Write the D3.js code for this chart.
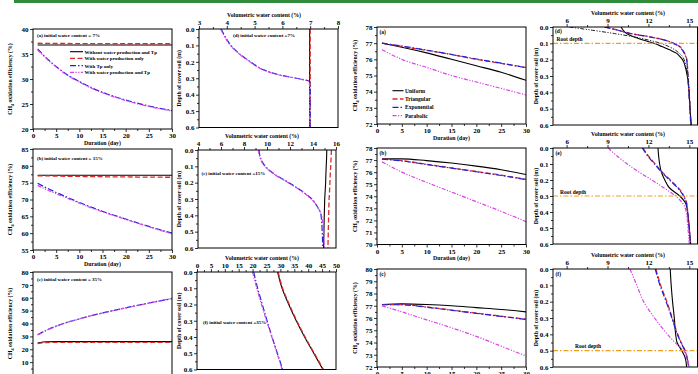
<!DOCTYPE html>
<html><head><meta charset="utf-8">
<script src="https://cdn.jsdelivr.net/npm/d3@7"></script>
<style>
body{margin:0;background:#fff}
svg{display:block}
text{font-family:"Liberation Serif","Times New Roman",serif;font-weight:bold;fill:#000}
</style>
</head><body>
<svg id="c" width="698" height="374"></svg>
<script>
// ---------- DATA ----------
// Left column: CH4 oxidation efficiency vs duration, by initial water content
const daysL = [1, 3, 5, 7, 10, 13, 16, 20, 25, 30];
const seriesNamesL = ["Without water production and Tp", "With water production only", "With Tp only", "With water production and Tp"];
const effA_none  = [36.8, 36.8, 36.8, 36.8, 36.8, 36.8, 36.8, 36.8, 36.8, 36.8];
const effA_water = [37.15, 37.12, 37.1, 37.1, 37.08, 37.07, 37.06, 37.05, 37.05, 37.05];
const effA_tp    = [36.0, 34.1, 32.5, 31.1, 29.5, 28.1, 27.0, 25.8, 24.6, 23.7];
const effA_both  = [35.8, 34.0, 32.4, 31.0, 29.4, 28.0, 26.9, 25.7, 24.5, 23.6];

const effB_none  = [77.2, 77.2, 77.2, 77.2, 77.2, 77.2, 77.2, 77.2, 77.2, 77.2];
const effB_water = [77.0, 77.0, 76.95, 76.9, 76.85, 76.8, 76.75, 76.7, 76.65, 76.6];
const effB_tp    = [74.8, 73.4, 72.1, 70.9, 69.1, 67.5, 66.0, 64.2, 62.0, 60.0];
const effB_both  = [74.2, 72.9, 71.7, 70.6, 68.9, 67.3, 65.9, 64.1, 61.9, 59.8];

const effC_none  = [24.8, 25.8, 25.9, 25.9, 25.9, 25.9, 25.9, 25.9, 25.9, 25.9];
const effC_water = [24.3, 25.2, 25.4, 25.4, 25.4, 25.4, 25.4, 25.4, 25.3, 25.3];
const effC_tp    = [31.3, 35.0, 38.0, 40.5, 43.6, 46.5, 49.0, 52.2, 55.9, 59.3];
const effC_both  = [31.0, 34.8, 37.8, 40.4, 43.5, 46.4, 48.9, 52.1, 55.8, 59.6];

// Middle column: volumetric water content profiles
const depthD = [0, 0.05, 0.1, 0.15, 0.2, 0.25, 0.28, 0.3, 0.32, 0.35, 0.4, 0.5, 0.6];
const wcD_none  = [6.98, 6.98, 6.98, 6.98, 6.98, 6.98, 6.98, 6.98, 6.98, 6.98, 6.98, 6.98, 6.98];
const wcD_water = [7.0, 7.0, 7.0, 7.0, 7.0, 7.0, 7.0, 7.0, 7.0, 7.0, 7.0, 7.0, 7.0];
const wcD_tp    = [3.8, 3.95, 4.15, 4.45, 4.85, 5.35, 5.9, 6.5, 6.98, 7.0, 7.0, 7.0, 7.0];
const wcD_both  = [3.78, 3.93, 4.13, 4.43, 4.83, 5.33, 5.88, 6.48, 6.96, 6.98, 6.98, 6.98, 6.98];

const depthE = [0, 0.05, 0.1, 0.15, 0.2, 0.25, 0.3, 0.35, 0.4, 0.5, 0.6];
const wcE_none  = [15.2, 15.18, 15.15, 15.12, 15.1, 15.06, 15.02, 15.0, 14.98, 14.95, 14.92];
const wcE_water = [15.6, 15.57, 15.54, 15.5, 15.47, 15.44, 15.4, 15.38, 15.36, 15.33, 15.3];
const wcE_tp    = [9.3, 9.45, 9.85, 10.7, 11.9, 13.0, 13.9, 14.4, 14.7, 14.8, 14.85];
const wcE_both  = [9.25, 9.4, 9.8, 10.65, 11.85, 12.95, 13.85, 14.4, 14.75, 14.9, 15.0];

const depthF = [0, 0.1, 0.2, 0.3, 0.4, 0.5, 0.6];
const wcF_none  = [29.0, 30.6, 33.0, 35.7, 38.7, 42.0, 45.3];
const wcF_water = [29.2, 30.8, 33.2, 35.9, 38.9, 42.2, 45.5];
const wcF_tp    = [20.4, 21.8, 23.5, 25.2, 27.0, 28.9, 30.8];
const wcF_both  = [20.0, 21.5, 23.2, 25.0, 26.9, 28.8, 30.6];

// Right column: root distribution comparison
const daysR = [1, 5, 10, 15, 20, 25, 30];
const rootNames = ["Uniform", "Triangular", "Exponential", "Parabolic"];
const effRa_uni = [77.0, 76.75, 76.4, 76.0, 75.6, 75.2, 74.7];
const effRa_tri = [77.0, 76.8, 76.55, 76.3, 76.0, 75.75, 75.5];
const effRa_exp = [77.0, 76.82, 76.57, 76.3, 76.02, 75.76, 75.48];
const effRa_par = [76.6, 76.0, 75.5, 75.0, 74.6, 74.2, 73.8];

const effRb_uni = [77.1, 77.1, 76.95, 76.75, 76.5, 76.2, 75.8];
const effRb_tri = [77.1, 76.95, 76.65, 76.35, 76.05, 75.75, 75.4];
const effRb_exp = [77.08, 76.93, 76.63, 76.33, 76.03, 75.72, 75.38];
const effRb_par = [76.85, 76.0, 75.15, 74.35, 73.55, 72.75, 71.9];

const effRc_uni = [77.1, 77.15, 77.1, 77.0, 76.85, 76.7, 76.5];
const effRc_tri = [77.1, 77.1, 76.9, 76.65, 76.4, 76.15, 75.9];
const effRc_exp = [77.08, 77.08, 76.88, 76.63, 76.38, 76.13, 75.88];
const effRc_par = [77.0, 76.5, 75.85, 75.2, 74.5, 73.7, 72.9];

const depthRd = [0, 0.02, 0.04, 0.06, 0.08, 0.1, 0.12, 0.14, 0.16, 0.18, 0.2, 0.25, 0.3, 0.4, 0.5, 0.6];
const wcRd_uni = [10.0, 10.15, 10.4, 10.9, 11.6, 12.4, 13.0, 13.55, 14.05, 14.3, 14.5, 14.72, 14.85, 14.98, 15.05, 15.15];
const wcRd_tri = [8.8, 9.8, 10.7, 12.1, 13.2, 13.85, 14.3, 14.5, 14.65, 14.75, 14.82, 14.87, 14.9, 14.97, 15.05, 15.12];
const wcRd_exp = [8.78, 9.78, 10.68, 12.08, 13.18, 13.83, 14.28, 14.48, 14.63, 14.73, 14.8, 14.86, 14.9, 14.97, 15.05, 15.1];
const wcRd_par = [6.2, 7.9, 9.5, 10.9, 12.0, 12.9, 13.5, 13.95, 14.25, 14.5, 14.62, 14.78, 14.9, 15.0, 15.06, 15.12];

const depthRe = [0, 0.05, 0.1, 0.15, 0.2, 0.25, 0.3, 0.35, 0.4, 0.5, 0.6];
const wcRe_uni = [12.7, 12.75, 12.82, 12.95, 13.2, 13.55, 14.3, 14.75, 14.87, 15.0, 15.1];
const wcRe_tri = [11.6, 12.0, 12.5, 13.0, 13.6, 14.2, 14.6, 14.82, 14.88, 14.98, 15.1];
const wcRe_exp = [11.55, 11.95, 12.45, 12.95, 13.55, 14.15, 14.58, 14.8, 14.88, 14.98, 15.08];
const wcRe_par = [9.06, 9.7, 10.45, 11.3, 12.25, 13.15, 14.0, 14.55, 14.78, 14.9, 15.0];

const depthRf = [0, 0.1, 0.2, 0.3, 0.4, 0.45, 0.5, 0.55, 0.6];
const wcRf_uni = [13.6, 13.67, 13.77, 13.9, 14.0, 14.1, 14.45, 14.72, 14.8];
const wcRf_tri = [12.55, 12.9, 13.35, 13.75, 14.15, 14.4, 14.7, 14.85, 14.95];
const wcRf_exp = [12.5, 12.85, 13.3, 13.72, 14.12, 14.38, 14.68, 14.85, 14.97];
const wcRf_par = [10.65, 11.15, 11.65, 12.45, 13.4, 13.95, 14.6, 14.85, 15.0];

const rootDepths = [0.1, 0.3, 0.5];

// ---------- DRAWING ----------
const svg = d3.select("#c");
svg.append("rect").attr("x", 14).attr("y", 0).attr("width", 684).attr("height", 3).attr("fill", "#2f8a3c");

const STY = {
  black:   {stroke: "#000000", dash: null, w: 1.1},
  red:     {stroke: "#e02a2a", dash: "5,2.5", w: 1.3},
  blue:    {stroke: "#2020d8", dash: "6,2,1.5,2", w: 1.2},
  magenta: {stroke: "#d944e6", dash: "4,1.5,1.2,1.5,1.2,1.5", w: 1.2},
  dark:    {stroke: "#222222", dash: "4,1.5,1.2,1.5,1.2,1.5", w: 1.0}
};
const TICKF = 7, TITLEF = 5.8;
let clipId = 0;
const fmtInt = d3.format("d");

function frame(g, x0, y0, x1, y1) {
  g.append("rect").attr("x", x0).attr("y", y0).attr("width", x1 - x0).attr("height", y1 - y0)
    .attr("fill", "none").attr("stroke", "#000").attr("stroke-width", 1);
}
function styleAxis(sel) {
  sel.select(".domain").remove();
  sel.selectAll("line").attr("stroke", "#000").attr("stroke-width", 0.8);
  sel.selectAll("text").attr("font-size", TICKF).attr("font-family", "Liberation Serif, serif").attr("font-weight", "bold");
}
function minorOf(ticks) {
  const m = [];
  for (let i = 0; i < ticks.length - 1; i++) m.push((ticks[i] + ticks[i + 1]) / 2);
  return m;
}
function drawLines(g, x0, y0, x1, y1, series, xs, ys, vertical) {
  const id = "clip" + (clipId++);
  svg.append("clipPath").attr("id", id).append("rect").attr("x", x0).attr("y", y0).attr("width", x1 - x0).attr("height", y1 - y0);
  const lg = g.append("g").attr("clip-path", `url(#${id})`);
  series.forEach(s => {
    const pts = s.a.map((d, i) => vertical ? [s.v[i], d] : [d, s.v[i]]);
    const line = d3.line().x(p => xs(p[0])).y(p => ys(p[1]))
      .curve(vertical ? d3.curveMonotoneY : d3.curveMonotoneX);
    const st = STY[s.s];
    lg.append("path").attr("d", line(pts)).attr("fill", "none")
      .attr("stroke", st.stroke).attr("stroke-width", st.w)
      .attr("stroke-dasharray", st.dash);
  });
  return lg;
}
function effLabel(g, x, yc) {
  const t = g.append("text").attr("transform", `translate(${x},${yc}) rotate(-90)`)
    .attr("text-anchor", "middle").attr("font-size", TITLEF);
  t.append("tspan").text("CH");
  t.append("tspan").attr("font-size", TITLEF * 0.7).attr("dy", 1.5).text("4");
  t.append("tspan").attr("dy", -1.5).text(" oxidation efficiency (%)");
}
function depthLabel(g, x, yc) {
  g.append("text").attr("transform", `translate(${x},${yc}) rotate(-90)`)
    .attr("text-anchor", "middle").attr("font-size", TITLEF).text("Depth of cover soil (m)");
}

// Time panel
function timePanel(c) {
  const g = svg.append("g");
  const x = d3.scaleLinear().domain([0, 30]).range([c.x0, c.x1]);
  const y = d3.scaleLinear().domain(c.ydom).range([c.y1, c.y0]);
  const xt = [0, 5, 10, 15, 20, 25, 30];
  g.append("g").attr("transform", `translate(0,${c.y1})`)
    .call(d3.axisBottom(x).tickValues(minorOf(xt)).tickSize(2).tickFormat("")).call(styleAxis);
  g.append("g").attr("transform", `translate(0,${c.y1})`)
    .call(d3.axisBottom(x).tickValues(xt).tickSize(3).tickPadding(1.5)
      .tickFormat(c.hideXLabels ? () => "" : fmtInt)).call(styleAxis);
  g.append("g").attr("transform", `translate(${c.x0},0)`)
    .call(d3.axisLeft(y).tickValues(minorOf(c.yt)).tickSize(2).tickFormat("")).call(styleAxis);
  g.append("g").attr("transform", `translate(${c.x0},0)`)
    .call(d3.axisLeft(y).tickValues(c.yt).tickSize(3).tickPadding(1.5)
      .tickFormat(d => (c.hideY0 && d === c.ydom[0]) ? "" : fmtInt(d))).call(styleAxis);
  drawLines(g, c.x0, c.y0, c.x1, c.y1, c.series, x, y, false);
  frame(g, c.x0, c.y0, c.x1, c.y1);
  if (c.xTitle) g.append("text").attr("x", (c.x0 + c.x1) / 2).attr("y", c.y1 + 15.5)
      .attr("text-anchor", "middle").attr("font-size", TITLEF).text("Duration (day)");
  effLabel(g, c.ylx, (c.y0 + c.y1) / 2);
  if (c.label) g.append("text").attr("x", c.lx).attr("y", c.ly).attr("font-size", c.lf || 5).text(c.label);
  return {g, x, y};
}

// Depth panel
function depthPanel(c) {
  const g = svg.append("g");
  const x = d3.scaleLinear().domain(c.xdom).range([c.x0, c.x1]);
  const y = d3.scaleLinear().domain([0, 0.6]).range([c.y0, c.y1]);
  const yt = [0, 0.1, 0.2, 0.3, 0.4, 0.5, 0.6];
  g.append("g").attr("transform", `translate(0,${c.y0})`)
    .call(d3.axisTop(x).tickValues(c.xm).tickSize(2).tickFormat("")).call(styleAxis);
  g.append("g").attr("transform", `translate(0,${c.y0})`)
    .call(d3.axisTop(x).tickValues(c.xt).tickSize(3).tickPadding(1.5).tickFormat(fmtInt)).call(styleAxis);
  g.append("g").attr("transform", `translate(${c.x0},0)`)
    .call(d3.axisLeft(y).tickValues(minorOf(yt)).tickSize(2).tickFormat("")).call(styleAxis);
  g.append("g").attr("transform", `translate(${c.x0},0)`)
    .call(d3.axisLeft(y).tickValues(yt).tickSize(3).tickPadding(1.5).tickFormat(d3.format(".1f"))).call(styleAxis);
  const lg = drawLines(g, c.x0, c.y0, c.x1, c.y1, c.series, x, y, true);
  if (c.root != null) {
    lg.append("line").attr("x1", c.x0).attr("x2", c.x1).attr("y1", y(c.root)).attr("y2", y(c.root))
      .attr("stroke", "#f0a020").attr("stroke-width", 1.2).attr("stroke-dasharray", "5,2,1.5,2");
    g.append("text").attr("x", c.rx).attr("y", y(c.root) - 2.5).attr("font-size", 5.5).text("Root depth");
  }
  frame(g, c.x0, c.y0, c.x1, c.y1);
  g.append("text").attr("x", c.tx).attr("y", c.y0 - 12.5).attr("text-anchor", "middle")
    .attr("font-size", TITLEF).text("Volumetric water content (%)");
  depthLabel(g, c.ylx, (c.y0 + c.y1) / 2);
  if (c.label) g.append("text").attr("x", c.lx).attr("y", c.ly).attr("font-size", c.lf || 5).text(c.label);
  return {g, x, y};
}

const SL = ["black", "red", "blue", "magenta"];
function ser(a, vals, styles) { return vals.map((v, i) => ({a, v, s: styles[i]})); }

// Left column
const pa = timePanel({x0: 33, x1: 172, y0: 29, y1: 129, ydom: [20, 40], yt: [20, 25, 30, 35, 40], ylx: 12,
  xTitle: true, label: "(a) initial water content = 7%", lx: 37, ly: 37,
  series: ser(daysL, [effA_none, effA_water, effA_tp, effA_both], SL)});
timePanel({x0: 33, x1: 172, y0: 149, y1: 250, ydom: [55, 85], yt: [55, 60, 65, 70, 75, 80, 85], ylx: 12,
  xTitle: true, label: "(b) initial water content = 15%", lx: 37, ly: 160,
  series: ser(daysL, [effB_none, effB_water, effB_tp, effB_both], SL)});
timePanel({x0: 33, x1: 172, y0: 272, y1: 375, ydom: [0, 80], yt: [0, 10, 20, 30, 40, 50, 60, 70, 80], ylx: 12,
  xTitle: false, hideXLabels: true, hideY0: true, label: "(c) initial water content = 35%", lx: 37, ly: 281,
  series: ser(daysL, [effC_none, effC_water, effC_tp, effC_both], SL)});

// Legend for left (a)
seriesNamesL.forEach((n, i) => {
  const yy = [51.7, 58.3, 65.7, 72.3][i];
  const st = STY[SL[i]];
  pa.g.append("line").attr("x1", 70).attr("x2", 83).attr("y1", yy).attr("y2", yy)
    .attr("stroke", st.stroke).attr("stroke-width", st.w).attr("stroke-dasharray", st.dash);
  pa.g.append("text").attr("x", 84.5).attr("y", yy + 1.8).attr("font-size", 5).text(n);
});

// Middle column
depthPanel({x0: 199, x1: 338, y0: 29, y1: 127.5, xdom: [3, 8], xt: [3, 4, 5, 6, 7, 8], xm: [3.5, 4.5, 5.5, 6.5, 7.5],
  ylx: 181, tx: 264, label: "(d) initial water content =7%", lx: 233, ly: 37,
  series: ser(depthD, [wcD_none, wcD_water, wcD_tp, wcD_both], SL)});
depthPanel({x0: 198, x1: 336, y0: 150, y1: 248, xdom: [4, 16], xt: [4, 6, 8, 10, 12, 14, 16], xm: [5, 7, 9, 11, 13, 15],
  ylx: 181, tx: 262, label: "(e) initial water content =15%", lx: 201.5, ly: 175,
  series: ser(depthE, [wcE_none, wcE_water, wcE_tp, wcE_both], SL)});
depthPanel({x0: 197, x1: 336, y0: 272, y1: 369.5, xdom: [0, 50], xt: [0, 5, 10, 15, 20, 25, 30, 35, 40, 45, 50], xm: d3.range(2.5, 50, 5),
  ylx: 181, tx: 262, label: "(f) initial water content =35%", lx: 203, ly: 323.5,
  series: ser(depthF, [wcF_none, wcF_water, wcF_tp, wcF_both], SL)});

// Right column
const ra = timePanel({x0: 377, x1: 526, y0: 27, y1: 124, ydom: [72, 78], yt: [72, 73, 74, 75, 76, 77, 78], ylx: 357,
  xTitle: true, label: "(a)", lx: 379.5, ly: 34, lf: 5.5,
  series: ser(daysR, [effRa_uni, effRa_tri, effRa_exp, effRa_par], SL)});
timePanel({x0: 377, x1: 526, y0: 148, y1: 244.5, ydom: [70, 78], yt: [70, 71, 72, 73, 74, 75, 76, 77, 78], ylx: 357,
  xTitle: true, label: "(b)", lx: 379.5, ly: 154.5, lf: 5.5,
  series: ser(daysR, [effRb_uni, effRb_tri, effRb_exp, effRb_par], SL)});
timePanel({x0: 377, x1: 526, y0: 269, y1: 367, ydom: [72, 80], yt: [72, 73, 74, 75, 76, 77, 78, 79, 80], ylx: 357,
  xTitle: false, label: "(c)", lx: 379.5, ly: 276, lf: 5.5,
  series: ser(daysR, [effRc_uni, effRc_tri, effRc_exp, effRc_par], SL)});

rootNames.forEach((n, i) => {
  const yy = [90.7, 99, 107.3, 115.7][i];
  const st = STY[SL[i]];
  ra.g.append("line").attr("x1", 392.5).attr("x2", 403.5).attr("y1", yy).attr("y2", yy)
    .attr("stroke", st.stroke).attr("stroke-width", st.w).attr("stroke-dasharray", st.dash);
  ra.g.append("text").attr("x", 405).attr("y", yy + 2).attr("font-size", 5.5).text(n);
});

// Far right column
const XDR = [5, 15.6], XTR = [6, 9, 12, 15], XMR = [7.5, 10.5, 13.5];
depthPanel({x0: 553, x1: 697.5, y0: 27, y1: 125, xdom: XDR, xt: XTR, xm: XMR,
  ylx: 538, tx: 628, label: "(d)", lx: 555, ly: 33, lf: 5.5, root: rootDepths[0], rx: 556.5,
  series: ser(depthRd, [wcRd_uni, wcRd_tri, wcRd_exp, wcRd_par], ["black", "red", "blue", "dark"])});
depthPanel({x0: 553, x1: 697.5, y0: 148, y1: 244, xdom: XDR, xt: XTR, xm: XMR,
  ylx: 538, tx: 628, label: "(e)", lx: 555.5, ly: 155, lf: 5.5, root: rootDepths[1], rx: 560,
  series: ser(depthRe, [wcRe_uni, wcRe_tri, wcRe_exp, wcRe_par], SL)});
depthPanel({x0: 553, x1: 697.5, y0: 269, y1: 367, xdom: XDR, xt: XTR, xm: XMR,
  ylx: 538, tx: 628, label: "(f)", lx: 555.5, ly: 276, lf: 5.5, root: rootDepths[2], rx: 575,
  series: ser(depthRf, [wcRf_uni, wcRf_tri, wcRf_exp, wcRf_par], SL)});
</script>
</body></html>
